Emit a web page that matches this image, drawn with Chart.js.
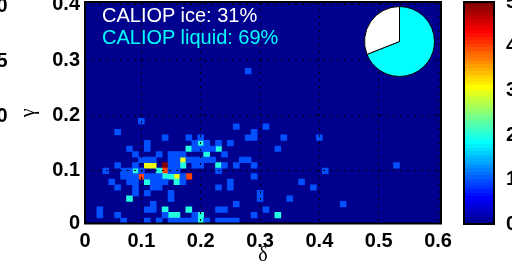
<!DOCTYPE html>
<html>
<head>
<meta charset="utf-8">
<script src="https://cdn.jsdelivr.net/npm/chart.js@4.4.1/dist/chart.umd.min.js"></script>
<style>
  html, body { margin: 0; padding: 0; background: #fff; }
  #wrap { position: relative; width: 512px; height: 276px; overflow: hidden; }
  canvas { position: absolute; }
  .note { position: absolute; left: 102px; font: 20px/20px "Liberation Sans", Arial, sans-serif; white-space: nowrap; }
  .cut { position: absolute; left: -40px; width: 47.5px; text-align: right; font: bold 20px/20px "Liberation Sans", Arial, sans-serif; color: #000; }
</style>
</head>
<body>
<div id="wrap">
  <canvas id="heat" width="512" height="276" style="left:0;top:0"></canvas>
  <canvas id="scale" width="68" height="276" style="left:444px;top:0"></canvas>
  <canvas id="pie" width="71" height="71" style="left:364px;top:6px"></canvas>
  <div class="cut" style="top:-5px">0</div>
  <div class="cut" style="top:50px">5</div>
  <div class="cut" style="top:105px">0</div>
</div>
<script>
// axes
const deltaTicks = [0, 0.1, 0.2, 0.3, 0.4, 0.5, 0.6]
const gammaTicks = [0, 0.1, 0.2, 0.3, 0.4]
const colorTicks = [0, 1, 2, 3, 4, 5]

// phase split shown in the pie
const phaseNames = ['CALIOP liquid', 'CALIOP ice']
const phaseShares = [69, 31]

// histogram cells [delta, gamma] (bin centres), one list per count
const count1 = [
  [0.28, 0.28],
  [0.10, 0.19],
  [0.26, 0.18], [0.31, 0.18],
  [0.06, 0.17], [0.29, 0.17],
  [0.14, 0.16], [0.18, 0.16], [0.20, 0.16], [0.28, 0.16], [0.29, 0.16], [0.34, 0.16], [0.40, 0.16],
  [0.11, 0.15], [0.19, 0.15], [0.21, 0.15], [0.23, 0.15], [0.25, 0.15],
  [0.08, 0.14], [0.11, 0.14], [0.19, 0.14], [0.20, 0.14], [0.21, 0.14], [0.22, 0.14], [0.33, 0.14],
  [0.09, 0.13], [0.13, 0.13], [0.15, 0.13], [0.16, 0.13], [0.17, 0.13], [0.24, 0.13],
  [0.10, 0.12], [0.11, 0.12], [0.12, 0.12], [0.15, 0.12], [0.16, 0.12], [0.18, 0.12], [0.19, 0.12],
  [0.20, 0.12], [0.21, 0.12], [0.22, 0.12], [0.27, 0.12], [0.28, 0.12],
  [0.06, 0.11], [0.09, 0.11], [0.15, 0.11], [0.16, 0.11], [0.19, 0.11], [0.20, 0.11], [0.24, 0.11],
  [0.26, 0.11], [0.29, 0.11], [0.53, 0.11],
  [0.04, 0.10], [0.07, 0.10], [0.08, 0.10], [0.10, 0.10], [0.15, 0.10], [0.16, 0.10], [0.23, 0.10], [0.41, 0.10],
  [0.07, 0.09], [0.08, 0.09], [0.09, 0.09], [0.11, 0.09], [0.12, 0.09], [0.13, 0.09], [0.17, 0.09], [0.29, 0.09],
  [0.05, 0.08], [0.08, 0.08], [0.09, 0.08], [0.12, 0.08], [0.13, 0.08], [0.14, 0.08], [0.17, 0.08], [0.25, 0.08], [0.37, 0.08],
  [0.06, 0.07], [0.09, 0.07], [0.12, 0.07], [0.13, 0.07], [0.23, 0.07], [0.25, 0.07], [0.39, 0.07],
  [0.09, 0.06], [0.11, 0.06], [0.15, 0.06], [0.30, 0.06],
  [0.15, 0.05], [0.30, 0.05], [0.35, 0.05],
  [0.12, 0.04], [0.26, 0.04], [0.44, 0.04],
  [0.03, 0.03], [0.11, 0.03], [0.12, 0.03], [0.23, 0.03], [0.24, 0.03], [0.31, 0.03],
  [0.03, 0.02], [0.06, 0.02], [0.14, 0.02], [0.19, 0.02], [0.29, 0.02],
  [0.07, 0.01], [0.11, 0.01], [0.13, 0.01], [0.15, 0.01], [0.16, 0.01], [0.17, 0.01], [0.18, 0.01],
  [0.19, 0.01], [0.21, 0.01], [0.23, 0.01], [0.24, 0.01], [0.25, 0.01], [0.26, 0.01],
]
const count2 = [
  [0.20, 0.15], [0.18, 0.14], [0.23, 0.14], [0.21, 0.13], [0.17, 0.11], [0.23, 0.11],
  [0.09, 0.10], [0.13, 0.10], [0.14, 0.09], [0.15, 0.09], [0.11, 0.08], [0.16, 0.08],
  [0.08, 0.05], [0.14, 0.03], [0.18, 0.03],
  [0.15, 0.02], [0.16, 0.02], [0.20, 0.02], [0.33, 0.02], [0.20, 0.01],
]
const count3 = [[0.17, 0.12], [0.11, 0.11], [0.12, 0.11], [0.16, 0.09]]
const count4 = [[0.14, 0.10], [0.10, 0.09], [0.18, 0.09]]
const count5 = [[0.14, 0.11]]

const countLists = [count1, count2, count3, count4, count5]
const countMax = colorTicks[colorTicks.length - 1]
const binHalf = 0.005

// MATLAB jet(64)
function jetRow(i) {
  const u = (k) => (k < 1 || k > 47 ? 0 : k <= 16 ? k / 16 : k <= 31 ? 1 : (48 - k) / 16)
  return [u(i - 24), u(i - 8), u(i + 8)].map((c) => Math.round(c * 255))
}
function countColor(c) {
  const i = Math.min(64, Math.floor((c / countMax) * 64) + 1)
  const [r, g, b] = jetRow(i)
  return `rgb(${r},${g},${b})`
}

const tickFont = { family: '"Liberation Sans", Arial, sans-serif', size: 20, weight: 'bold' }
const greekFont = { family: '"Liberation Serif", "Times New Roman", serif', size: 20 }
const fmt = (v) => (v === 0 ? '0' : v.toFixed(1))

const frame = {
  id: 'frame',
  afterDraw(chart) {
    const { ctx, chartArea: a } = chart
    ctx.save()
    ctx.strokeStyle = '#000'
    ctx.lineWidth = 2
    ctx.strokeRect(a.left, a.top, a.right - a.left, a.bottom - a.top)
    ctx.restore()
  },
}

const areaFill = {
  id: 'areaFill',
  beforeDraw(chart) {
    const { ctx, chartArea: a } = chart
    ctx.save()
    ctx.fillStyle = countColor(0)
    ctx.fillRect(a.left, a.top, a.right - a.left, a.bottom - a.top)
    ctx.restore()
  },
}

const gridStyle = { color: '#000', lineWidth: 1, z: 1, drawTicks: false }
const gridBorder = { display: false, dash: [2, 5] }

new Chart(document.getElementById('heat'), {
  type: 'bar',
  data: {
    datasets: countLists.map((list, n) => ({
      label: String(n + 1),
      data: list.map(([d, g]) => ({ x: d, y: [g - binHalf, g + binHalf] })),
      backgroundColor: countColor(n + 1),
      borderWidth: 0,
      grouped: false,
      barPercentage: 1,
      categoryPercentage: 1,
    })),
  },
  options: {
    responsive: false,
    animation: false,
    events: [],
    layout: { padding: { left: 0, right: 71, top: 2, bottom: 0 } },
    plugins: { legend: { display: false }, tooltip: { enabled: false } },
    scales: {
      x: {
        type: 'linear',
        min: 0.005,
        max: 0.605,
        offset: false,
        afterBuildTicks: (s) => {
          s.ticks = deltaTicks.map((v) => ({ value: Math.max(v, s.min) }))
        },
        afterFit: (s) => {
          s.height = 52.5
          s.paddingLeft = 0
          s.paddingRight = 0
        },
        ticks: {
          font: tickFont,
          color: '#000',
          padding: 6,
          maxRotation: 0,
          autoSkip: false,
          callback: (v, i) => fmt(deltaTicks[i]),
        },
        grid: { ...gridStyle, offset: false },
        border: gridBorder,
        title: { display: true, text: 'δ', font: greekFont, color: '#000', padding: { top: 0, bottom: 8 } },
      },
      y: {
        type: 'linear',
        min: 0.005,
        max: 0.405,
        afterBuildTicks: (s) => {
          s.ticks = gammaTicks.map((v) => ({ value: Math.max(v, s.min) }))
        },
        afterFit: (s) => {
          s.width = 85
          s.paddingTop = 0
          s.paddingBottom = 0
        },
        ticks: {
          font: tickFont,
          color: '#000',
          padding: 5,
          autoSkip: false,
          callback: (v, i) => fmt(gammaTicks[i]),
        },
        grid: gridStyle,
        border: gridBorder,
        title: { display: true, text: 'γ', font: greekFont, color: '#000', padding: { top: 17, bottom: 0 } },
      },
    },
  },
  plugins: [areaFill, frame],
})

// colour bar
new Chart(document.getElementById('scale'), {
  type: 'bar',
  data: {
    labels: [''],
    datasets: [
      {
        data: [[colorTicks[0], countMax]],
        backgroundColor: (context) => {
          const a = context.chart.chartArea
          if (!a) return null
          const grad = context.chart.ctx.createLinearGradient(0, a.bottom, 0, a.top)
          for (let i = 1; i <= 64; i++) {
            const [r, g, b] = jetRow(i)
            grad.addColorStop((i - 1) / 64, `rgb(${r},${g},${b})`)
            grad.addColorStop(i / 64, `rgb(${r},${g},${b})`)
          }
          return grad
        },
        borderWidth: 0,
        barPercentage: 1,
        categoryPercentage: 1,
      },
    ],
  },
  options: {
    responsive: false,
    animation: false,
    events: [],
    layout: { padding: { left: 20, right: 0, top: 2, bottom: 52 } },
    plugins: { legend: { display: false }, tooltip: { enabled: false } },
    scales: {
      x: { display: false },
      y: {
        position: 'right',
        min: colorTicks[0],
        max: countMax,
        afterBuildTicks: (s) => {
          s.ticks = colorTicks.map((v) => ({ value: v }))
        },
        afterFit: (s) => {
          s.width = 18
          s.paddingTop = 0
          s.paddingBottom = 0
        },
        ticks: { font: tickFont, color: '#000', padding: 4, autoSkip: false },
        grid: { display: false },
        border: { display: false },
      },
    },
  },
  plugins: [frame],
})

// pie inset
new Chart(document.getElementById('pie'), {
  type: 'pie',
  data: {
    labels: phaseNames,
    datasets: [
      {
        data: phaseShares,
        backgroundColor: ['#00ffff', '#ffffff'],
        borderColor: '#000',
        borderWidth: 1,
        hoverOffset: 0,
      },
    ],
  },
  options: {
    responsive: false,
    animation: false,
    events: [],
    layout: { padding: 0 },
    plugins: { legend: { display: false }, tooltip: { enabled: false } },
  },
})

// text notes
const wrap = document.getElementById('wrap')
const notes = [
  { i: 1, top: 4.7, color: '#ffffff' },
  { i: 0, top: 27, color: '#00ffff' },
]
notes.forEach((n) => {
  const div = document.createElement('div')
  div.className = 'note'
  div.style.top = n.top + 'px'
  div.style.color = n.color
  div.textContent = `${phaseNames[n.i]}: ${phaseShares[n.i]}%`
  wrap.append(div)
})
</script>
</body>
</html>
